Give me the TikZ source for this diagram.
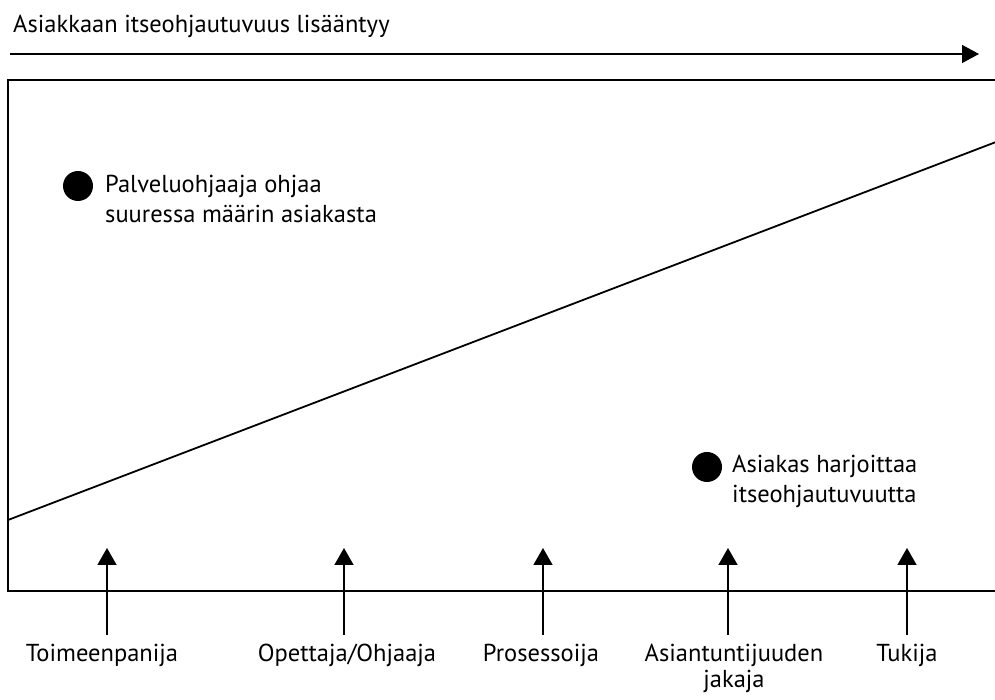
\documentclass[tikz,border=0pt]{standalone}
\usepackage{fontspec}
\setmainfont{PT Sans}
\usetikzlibrary{arrows.meta}
\begin{document}
\begin{tikzpicture}[x=1pt,y=1pt,
  txt/.style={inner sep=0pt, font=\fontsize{24.5}{30}\selectfont},
  lbl/.style={inner sep=0pt, font=\fontsize{24.5}{26}\selectfont, align=center, anchor=base},
  upar/.style={line width=1.6pt, -{Triangle[length=17pt,width=19pt]}},
  dot/.style={circle, fill=black, inner sep=0pt, minimum size=30pt}]
\useasboundingbox (0,0) rectangle (995,700);
% top arrow
\node[txt, anchor=base west] (title) at (13,667) {Asiakkaan itseohjautuvuus lisääntyy};
\coordinate (ta) at (10,646);
\coordinate (tb) at (979,646);
\draw[line width=1.3pt, -{Triangle[length=17pt,width=18pt]}] (ta) -- (tb);
% box
\coordinate (bTR) at (996,620);
\coordinate (bTL) at (8,620);
\coordinate (bBL) at (8,109);
\coordinate (bBR) at (996,109);
\draw[line width=1.8pt] (bTR) -- (bTL) -- (bBL) -- (bBR);
% diagonal
\coordinate (dA) at (8,180);
\coordinate (dB) at (996,558);
\draw[line width=1.8pt] (dA) -- (dB);
% bullets
\node[dot] (d1) at (78,514) {};
\node[txt, anchor=base west, align=left] (t1) at (105,477) {Palveluohjaaja ohjaa\\suuressa määrin asiakasta};
\node[dot] (d2) at (707,233) {};
\node[txt, anchor=base west, align=left] (t2) at (732,197) {Asiakas harjoittaa\\itseohjautuvuutta};
% bottom labels and arrows
\node[lbl] (l1) at (102,38) {Toimeenpanija};
\node[lbl] (l2) at (347,38) {Opettaja/Ohjaaja};
\node[lbl] (l3) at (541,38) {Prosessoija};
\node[lbl] (l4) at (734,12) {Asiantuntijuuden\\jakaja};
\node[lbl] (l5) at (907,38) {Tukija};
\foreach \i/\x in {1/107,2/344,3/543,4/728,5/907}{
  \coordinate (s\i) at (\x,65);
  \coordinate (e\i) at (\x,152);
  \draw[upar] (s\i) -- (e\i);
}
\end{tikzpicture}
\end{document}
